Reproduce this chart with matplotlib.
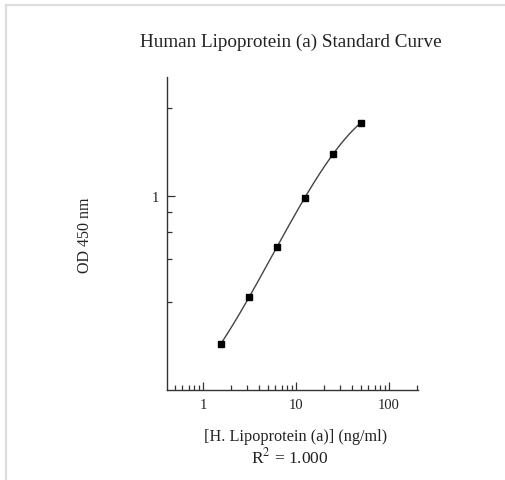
import numpy as np
import matplotlib
matplotlib.use("Agg")
from matplotlib import pyplot as plt
from matplotlib.lines import Line2D
from matplotlib.ticker import FixedLocator, NullFormatter, LogLocator

# standard curve data
conc = [1.5625, 3.125, 6.25, 12.5, 25, 50]        # ng/ml
od = [0.096, 0.219, 0.481, 0.973, 1.72, 2.51]      # OD 450 nm
x_major = [1, 10, 100]
y_major = [1]
y_minor = [0.2, 0.4, 0.6, 0.8, 3]
title = "Human Lipoprotein (a) Standard Curve"
xlab = "[H. Lipoprotein (a)] (ng/ml)"
ylab = "OD 450 nm"
r2 = 1.000

P = 0.14  # axis power transform


def fwd(v):
    return np.power(np.clip(v, 1e-9, None), P)


def inv(v):
    return np.power(np.clip(v, 1e-9, None), 1 / P)


plt.rcParams['font.family'] = ['Liberation Serif', 'DejaVu Serif']
plt.rcParams['mathtext.fontset'] = 'stix'
plt.rcParams['text.color'] = '#222222'

fig = plt.figure(figsize=(5.06, 4.81), dpi=100)
ax = fig.add_axes([167 / 506, 1 - 391 / 481, 251 / 506, (391 - 78.3) / 481])

# frame lines of the original picture
fig.add_artist(Line2D([6 / 506, 1], [1 - 6 / 481] * 2, color='#dddddd', lw=1.6, transform=fig.transFigure))
fig.add_artist(Line2D([6 / 506] * 2, [0, 1 - 6 / 481], color='#dddddd', lw=1.6, transform=fig.transFigure))

# smooth fit in transformed space
lx = np.log10(conc)
coef = np.polyfit(lx, fwd(np.array(od)), 3)
xs = np.linspace(lx[0], lx[-1], 200)
ax.plot(10 ** xs, inv(np.polyval(coef, xs)), color='#444444', lw=1.0, zorder=2)
ax.plot(conc, od, ls='none', marker='s', ms=4, color='black', zorder=3)

ax.set_xscale('log')
ax.set_yscale('function', functions=(fwd, inv))
ax.set_xlim(0.41, 205)
ax.set_ylim(0.038, 4.22)

ax.xaxis.set_major_locator(FixedLocator(x_major))
ax.xaxis.set_minor_locator(LogLocator(base=10, subs=np.arange(2, 10)))
ax.xaxis.set_minor_formatter(NullFormatter())
ax.set_xticklabels([str(v) for v in x_major])
ax.yaxis.set_major_locator(FixedLocator(y_major))
ax.yaxis.set_minor_locator(FixedLocator(y_minor))
ax.yaxis.set_minor_formatter(NullFormatter())
ax.set_yticklabels(['1'])

for s in ['top', 'right']:
    ax.spines[s].set_visible(False)
for s in ['left', 'bottom']:
    ax.spines[s].set_color('#333333')
    ax.spines[s].set_linewidth(1.0)

ax.tick_params(which='major', direction='in', length=6, width=0.9, color='#333333',
               labelsize=10.5, pad=6, labelcolor='#222222')
ax.tick_params(which='minor', direction='in', length=3.5, width=0.9, color='#333333')

fig.text(291 / 506, 1 - 42 / 481, title, ha='center', va='center', fontsize=13.8)
fig.text(296 / 506, 1 - 437 / 481, xlab, ha='center', va='center', fontsize=11.7)
fig.text(290 / 506, 1 - 457 / 481, r'R$^{2}$ = %.3f' % r2, ha='center', va='center', fontsize=12.5)
fig.text(85 / 506, 1 - 235 / 481, ylab, ha='center', va='center', rotation=90, fontsize=11.5)

fig.savefig('out.png', dpi=100)
